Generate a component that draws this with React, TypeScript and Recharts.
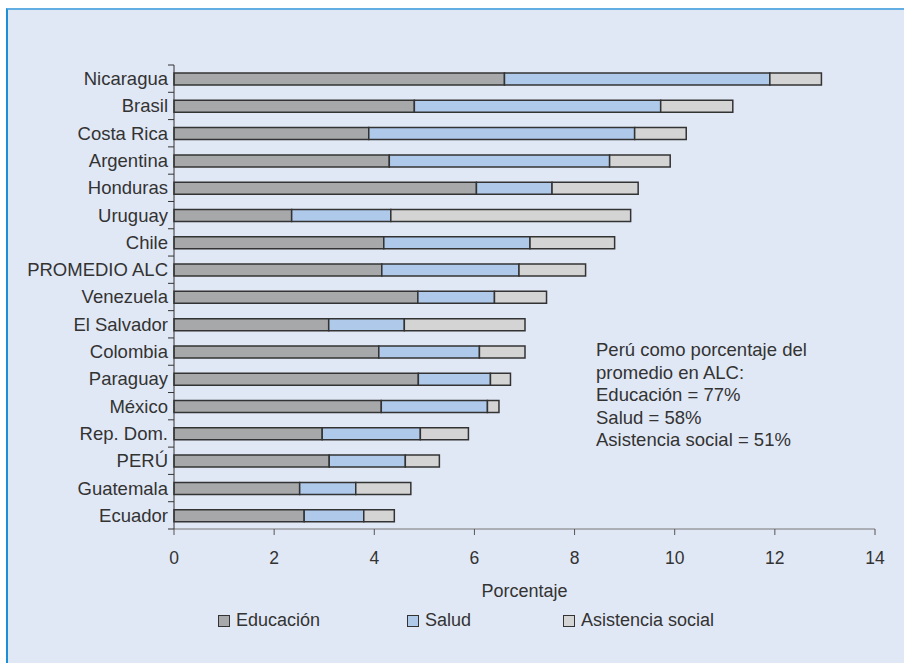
import { BarChart, Bar, XAxis, YAxis, Legend, Label } from 'recharts';

// Gasto público social por país, % (componentes apilados)
const paises = [
  'Nicaragua', 'Brasil', 'Costa Rica', 'Argentina', 'Honduras', 'Uruguay', 'Chile',
  'PROMEDIO ALC', 'Venezuela', 'El Salvador', 'Colombia', 'Paraguay', 'México',
  'Rep. Dom.', 'PERÚ', 'Guatemala', 'Ecuador'
];
const educacion = [6.6, 4.8, 3.89, 4.3, 6.04, 2.35, 4.19, 4.15, 4.87, 3.09, 4.09, 4.88, 4.14, 2.96, 3.1, 2.51, 2.6];
const salud = [5.3, 4.92, 5.31, 4.4, 1.51, 1.98, 2.92, 2.74, 1.53, 1.51, 2.01, 1.44, 2.12, 1.96, 1.52, 1.12, 1.19];
const asistencia = [1.03, 1.44, 1.03, 1.21, 1.72, 4.79, 1.69, 1.33, 1.04, 2.41, 0.91, 0.4, 0.23, 0.96, 0.68, 1.1, 0.61];
const xTicks = [0, 2, 4, 6, 8, 10, 12, 14];

const notaLineas = [
  'Perú como porcentaje del',
  'promedio en ALC:',
  'Educación = 77%',
  'Salud = 58%',
  'Asistencia social = 51%'
];

const series = [
  { key: 'educacion', name: 'Educación', color: '#a7a8aa' },
  { key: 'salud', name: 'Salud', color: '#aec9ea' },
  { key: 'asistencia', name: 'Asistencia social', color: '#d4d4d4' }
];

const data = paises.map((name, i) => ({
  name,
  educacion: educacion[i],
  salud: salud[i],
  asistencia: asistencia[i]
}));

const W = 904;
const H = 663;
const PLOT_TOP = 65;
const PLOT_BOTTOM = 529;
const ROW = (PLOT_BOTTOM - PLOT_TOP) / paises.length;
const FONT = '"Liberation Sans", Arial, sans-serif';
const TEXT = '#333';

// category label plus tick marks on the band edges
function CategoryTick(props: any) {
  const { x, y, payload, index } = props;
  const half = ROW / 2;
  return (
    <g>
      <line x1={x} x2={x + 6} y1={y - half} y2={y - half} stroke="#333" />
      {index === paises.length - 1 && (
        <line x1={x} x2={x + 6} y1={y + half} y2={y + half} stroke="#333" />
      )}
      <text x={x} y={y} dy="0.35em" textAnchor="end" fill={TEXT} fontSize={18.5} fontFamily={FONT}>
        {payload.value}
      </text>
    </g>
  );
}

const legendWidths = [189, 156, 200];

function LegendRow() {
  return (
    <div style={{ display: 'flex', paddingLeft: 218, fontFamily: FONT, fontSize: 18, color: TEXT }}>
      {series.map((s, i) => (
        <div key={s.key} style={{ width: legendWidths[i], display: 'flex', alignItems: 'center' }}>
          <span
            style={{
              display: 'inline-block',
              width: 10,
              height: 10,
              background: s.color,
              border: '1.5px solid #333',
              marginRight: 6
            }}
          />
          {s.name}
        </div>
      ))}
    </div>
  );
}

export default function App() {
  return (
    <div style={{ position: 'absolute', left: 0, top: 0, width: W, height: H, background: '#fff', overflow: 'hidden' }}>
      <div
        style={{
          position: 'absolute',
          left: 6,
          top: 8,
          width: W - 6,
          height: H - 8,
          background: '#e1e8f5',
          borderTop: '2px solid #62aee2',
          borderLeft: '2px solid #1b8fd8',
          boxSizing: 'border-box'
        }}
      />
      <div style={{ position: 'absolute', left: 0, top: 0 }}>
        <BarChart
          width={W}
          height={H}
          data={data}
          layout="vertical"
          margin={{ top: PLOT_TOP, right: 29, left: 0, bottom: H - PLOT_BOTTOM - 70 }}
        >
          <XAxis
            type="number"
            domain={[0, 14]}
            ticks={xTicks}
            height={70}
            axisLine={{ stroke: '#777' }}
            tickLine={{ stroke: '#555' }}
            tickSize={6}
            tickMargin={17}
            tick={{ fill: TEXT, fontSize: 17.5, fontFamily: FONT }}
          >
            <Label
              value="Porcentaje"
              position="insideBottom"
              offset={2}
              fill={TEXT}
              fontSize={18}
              fontFamily={FONT}
            />
          </XAxis>
          <YAxis
            type="category"
            dataKey="name"
            width={174}
            tickSize={6}
            tickMargin={0}
            tickLine={false}
            axisLine={{ stroke: '#333' }}
            tick={<CategoryTick />}
            interval={0}
          />
          <Legend
            verticalAlign="middle"
            align="center"
            layout="horizontal"
            wrapperStyle={{ left: 0, top: 610, width: W }}
            content={<LegendRow />}
          />
          {series.map((s) => (
            <Bar
              key={s.key}
              dataKey={s.key}
              name={s.name}
              stackId="gasto"
              fill={s.color}
              stroke="#333"
              strokeWidth={1.5}
              barSize={12}
              isAnimationActive={false}
            />
          ))}
        </BarChart>
      </div>
      <div
        style={{
          position: 'absolute',
          left: 596,
          top: 339,
          fontFamily: FONT,
          fontSize: 18.5,
          lineHeight: '22.6px',
          color: TEXT
        }}
      >
        {notaLineas.map((l) => (
          <div key={l}>{l}</div>
        ))}
      </div>
    </div>
  );
}
